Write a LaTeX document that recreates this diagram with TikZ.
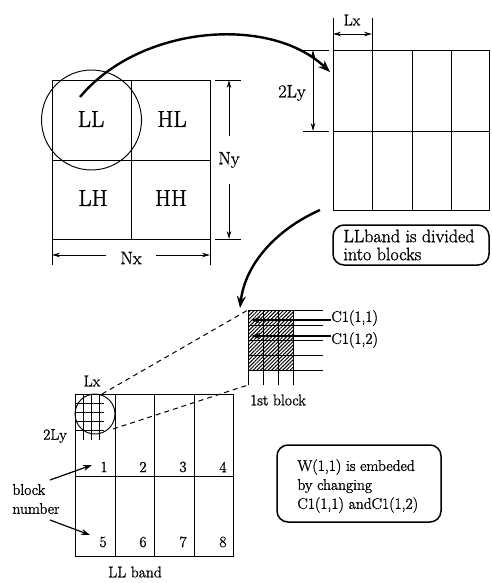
\documentclass[tikz,border=0pt]{standalone}
\usepackage{fontspec}
\setmainfont{Latin Modern Roman}[FakeBold=1.3]
\usetikzlibrary{arrows.meta,patterns.meta}
\tikzset{
 quad/.style={inner sep=0pt,font=\fontsize{23}{27}\selectfont},
 dimlbl/.style={inner sep=0pt,font=\fontsize{18}{21}\selectfont},
 lbl/.style={inner sep=0pt,font=\fontsize{15.5}{19}\selectfont},
 txt/.style={inner sep=0pt,align=left,font=\fontsize{15.5}{19}\selectfont},
 boxtxt/.style={inner sep=0pt,align=left,font=\fontsize{18}{18}\selectfont},
 dim/.style={line width=0.8pt,-{Stealth[length=8pt,width=4.5pt]}},
 dimboth/.style={line width=0.8pt,{Stealth[length=8pt,width=4.5pt]}-{Stealth[length=8pt,width=4.5pt]}},
 bigarrow/.style={line width=2.4pt,-{Stealth[length=12pt,width=9pt]}},
 carrow/.style={line width=1.8pt,-{Stealth[length=9pt,width=6pt]}},
 ptr/.style={line width=1.2pt,-{Stealth[length=9pt,width=6pt]}},
 rbox/.style={draw,rounded corners=11pt,line width=1.5pt,inner sep=0pt},
 hatch/.style={pattern={Lines[angle=45,distance=2.6pt,line width=1pt]}},
 dashln/.style={line width=1pt,dash pattern=on 5pt off 4pt},
}
\begin{document}
\begin{tikzpicture}[x=1pt,y=-1pt,line width=0.95pt]
\useasboundingbox (0,0) rectangle (491,583);

% ---------- sub-band square ----------
\draw (52,80) rectangle (210,239);
\draw (131,80) -- (131,239);
\draw (52,160) -- (210,160);
\node[quad] (LL) at (91,119) {LL};
\node[quad] (HL) at (172,119) {HL};
\node[quad] (LH) at (93,198) {LH};
\node[quad] (HH) at (171,198) {HH};
\draw (91.5,120) circle[radius=50];

% Ny dimension
\draw (215,80) -- (241,80);
\draw (215,239) -- (241,239);
\coordinate (nyT) at (229,80);
\coordinate (nyB) at (229,239);
\node[dimlbl,inner ysep=16pt] (Ny) at (229,160) {Ny};
\draw[dim] (Ny) -- (nyT);
\draw[dim] (Ny) -- (nyB);

% Nx dimension
\draw (52,239) -- (52,265);
\draw (210,239) -- (210,265);
\coordinate (nxL) at (52,255);
\coordinate (nxR) at (210,255);
\node[dimlbl,inner xsep=14pt] (Nx) at (131,258) {Nx};
\draw[dim] (Nx.west |- nxL) -- (nxL);
\draw[dim] (Nx.east |- nxR) -- (nxR);

% ---------- LL band divided into blocks ----------
\draw (333,50) rectangle (489.5,210);
\foreach \x in {372,412,451} \draw (\x,50) -- (\x,210);
\draw (333,131) -- (489.5,131);
% Lx
\draw (333,18) -- (333,50);
\draw (372,18) -- (372,50);
\coordinate (lxA) at (333,34);
\coordinate (lxB) at (372,34);
\draw[dimboth] (lxA) -- (lxB);
\node[lbl] (Lx1) at (352,20) {Lx};
% 2Ly
\draw (303,50) -- (329,50);
\draw (303,131) -- (329,131);
\coordinate (lyA) at (313,50);
\coordinate (lyB) at (313,131);
\draw[dimboth] (lyA) -- (lyB);
\node[dimlbl] (Ly1) at (292,93) {2Ly};

% curved arrow 1
\coordinate (c1s) at (80,97);
\coordinate (c1e) at (330,72);
\draw[bigarrow] (c1s) .. controls (140,25) and (270,15) .. (c1e);

% box 1
\node[rbox,minimum width=156pt,minimum height=40pt] (box1) at (411,245) {};
\node[boxtxt,anchor=west] (box1txt) at (343,245) {LLband is divided\\into blocks};

% curved arrow 2
\coordinate (c2s) at (320,210);
\coordinate (c2e) at (240,308);
\draw[bigarrow] (c2s) .. controls (275,230) and (245,265) .. (c2e);

% ---------- 1st block ----------
\fill[hatch] (248,310) rectangle (293,370);
\foreach \y in {310,325,340,355,370} \draw (248,\y) -- (323,\y);
\foreach \x in {248,263,278,293} \draw (\x,310) -- (\x,385);
\node[lbl,anchor=west] (C11) at (331,318) {C1(1,1)};
\node[lbl,anchor=west] (C12) at (331,340) {C1(1,2)};
\coordinate (a11) at (251,320);
\coordinate (a12) at (251,336);
\draw[carrow] (C11.west |- a11) -- (a11);
\draw[carrow] (C12.west |- a12) -- (a12);
\node[lbl] (first) at (278,400) {1st block};

% ---------- LL band ----------
\draw (75,394) rectangle (233,556);
\foreach \x in {115,154,194} \draw (\x,394) -- (\x,556);
\draw (75,476) -- (233,476);
\node[lbl] (n1) at (104,467) {1};
\node[lbl] (n2) at (143,467) {2};
\node[lbl] (n3) at (183,467) {3};
\node[lbl] (n4) at (223,467) {4};
\node[lbl] (n5) at (103,542) {5};
\node[lbl] (n6) at (143,542) {6};
\node[lbl] (n7) at (183,542) {7};
\node[lbl] (n8) at (223,542) {8};
% magnified first block
\draw (95,414) circle[radius=20];
\foreach \x in {83,91,99} \draw (\x,394) -- (\x,440);
\foreach \y in {403,412,421,430} \draw (75,\y) -- (104,\y);
\node[lbl] (Lx2) at (92,381) {Lx};
\node[lbl] (Ly2) at (55,436) {2Ly};
% dashed projection lines
\coordinate (d1s) at (102,394);
\coordinate (d1e) at (248,310);
\coordinate (d2s) at (113,429);
\coordinate (d2e) at (248,385);
\draw[dashln] (d1s) -- (d1e);
\draw[dashln] (d2s) -- (d2e);
% block number
\node[txt,anchor=west] (bn) at (12,499) {block\\number};
\coordinate (bnA) at (50,480);
\coordinate (bnAe) at (92,465);
\coordinate (bnB) at (50,520);
\coordinate (bnBe) at (90,535);
\draw[ptr] (bnA) -- (bnAe);
\draw[ptr] (bnB) -- (bnBe);
\node[lbl] (band) at (135,572) {LL band};

% ---------- W box ----------
\node[rbox,minimum width=164pt,minimum height=77pt] (box2) at (359,483.5) {};
\node[txt,anchor=west] (wtxt) at (297,486) {W(1,1) is embeded\\by changing\\C1(1,1) andC1(1,2)};
\end{tikzpicture}
\end{document}
